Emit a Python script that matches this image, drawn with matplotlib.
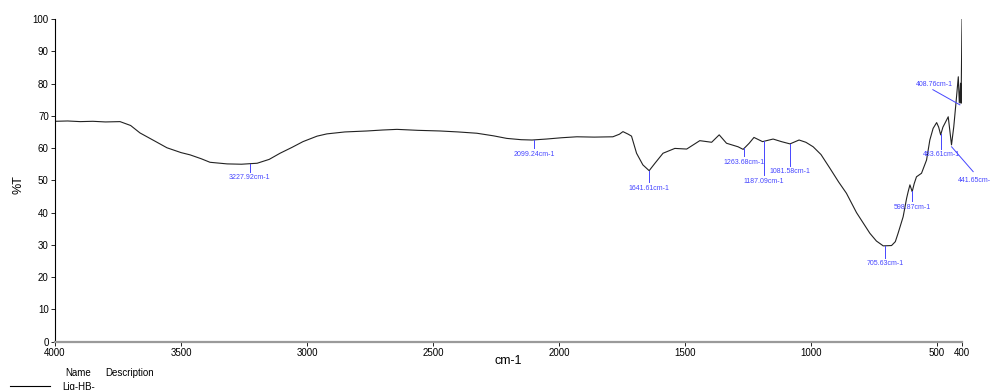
import numpy as np
import matplotlib
matplotlib.use("Agg")
import matplotlib.pyplot as plt

plt.rcParams["font.family"] = ["Liberation Sans", "DejaVu Sans"]

# FTIR spectrum (wavenumber cm-1, %T)
wavenumber = [
    4000, 3950, 3900, 3850, 3800, 3742, 3700, 3663, 3600, 3556, 3500, 3464,
    3420, 3385, 3317, 3260, 3198, 3150, 3107, 3060, 3016, 2960, 2921, 2850,
    2762, 2700, 2643, 2560, 2472, 2400, 2326, 2260, 2207, 2150, 2107, 2050,
    1990, 1929, 1860, 1786, 1760, 1746, 1725, 1712, 1692, 1667, 1642, 1619,
    1587, 1540, 1493, 1441, 1394, 1364, 1335, 1289, 1269, 1245, 1226, 1192,
    1150, 1117, 1083, 1047, 1020, 991, 960, 925, 890, 859, 819, 790, 766,
    740, 713, 680, 665, 654, 634, 620, 614, 607, 598, 590, 581, 561, 541,
    528, 515, 501, 493, 485, 476, 468, 455, 448, 442, 433, 422, 415, 411,
    406, 404, 401, 400,
]
transmittance = [
    68.3, 68.4, 68.2, 68.3, 68.1, 68.2, 67.0, 64.7, 62.0, 60.1, 58.6, 57.9,
    56.7, 55.6, 55.1, 55.0, 55.3, 56.5, 58.4, 60.2, 62.0, 63.7, 64.4, 65.0,
    65.3, 65.6, 65.8, 65.5, 65.3, 65.0, 64.6, 63.8, 63.0, 62.6, 62.5, 62.8,
    63.2, 63.5, 63.4, 63.5, 64.3, 65.1, 64.3, 63.7, 58.4, 54.8, 53.0, 55.3,
    58.4, 59.9, 59.7, 62.3, 61.8, 64.1, 61.5, 60.4, 59.6, 61.5, 63.3, 62.0,
    62.8, 62.0, 61.3, 62.5, 61.8, 60.4, 58.0, 53.8, 49.5, 46.0, 40.0, 36.5,
    33.6, 31.2, 29.7, 29.8, 31.0, 33.6, 38.7, 44.5, 46.5, 48.6, 46.5, 49.0,
    51.1, 52.2, 56.3, 62.5, 66.1, 67.9, 66.5, 64.1, 66.5, 67.7, 69.7, 65.0,
    61.0, 66.6, 75.9, 82.1, 74.0, 80.1, 73.9, 95.0, 100.0,
]

# labelled peaks
peak_wn = [3227.92, 2099.24, 1641.61, 1263.68, 1187.09, 1081.58, 705.63, 598.87, 483.61]
peak_drop = [2.5, 2.5, 3.7, 2.6, 10.4, 6.8, 3.7, 3.1, 4.6]
leader_peaks = [408.76, 441.65]

x_ticks = [4000, 3500, 3000, 2500, 2000, 1500, 1000, 500, 400]
y_ticks = list(range(0, 101, 10))

BLUE = "#4646ff"
wn = np.array(wavenumber, dtype=float)
tr = np.array(transmittance, dtype=float)


def curve_at(x):
    return float(np.interp(x, wn[::-1], tr[::-1]))


fig = plt.figure(figsize=(9.9, 3.9), dpi=100)
ax = fig.add_axes([0.0556, 0.1238, 0.9162, 0.8275])
ax.plot(wn, tr, color="#222222", lw=0.8)
ax.set_xlim(4000, 400)
ax.set_ylim(0, 100)
ax.set_xticks(x_ticks)
ax.set_yticks(y_ticks)
ax.tick_params(labelsize=7, length=3, width=0.6, pad=1.5)
for s in ("top", "right"):
    ax.spines[s].set_visible(False)
ax.spines["left"].set_linewidth(0.8)
ax.spines["bottom"].set_color("#9a9a9a")
ax.spines["bottom"].set_linewidth(1.6)

for p, d in zip(peak_wn, peak_drop):
    yc = curve_at(p)
    ax.plot([p, p], [yc, yc - d], color=BLUE, lw=0.7)
    ax.text(p, yc - d - 1.9, f"{p:.2f}cm-1", color=BLUE, fontsize=5,
            ha="center", va="center")

# leader-line labels near the right end
ax.plot([516, leader_peaks[0]], [78.1, 73.4], color=BLUE, lw=0.7, clip_on=False)
ax.text(510, 79.6, f"{leader_peaks[0]:.2f}cm-1", color=BLUE, fontsize=5,
        ha="center", va="center")
ax.plot([leader_peaks[1], 356], [60.4, 52.7], color=BLUE, lw=0.7, clip_on=False)
ax.text(417, 50.1, f"{leader_peaks[1]:.2f}cm-1", color=BLUE, fontsize=5,
        ha="left", va="center", clip_on=False)

fig.text(18 / 990, 1 - 185 / 390, "%T", rotation=90, fontsize=9,
         ha="center", va="center")
fig.text(508 / 990, 1 - 361 / 390, "cm-1", fontsize=9, ha="center", va="center")

# legend stub at the bottom
fig.text(65 / 990, 1 - 373 / 390, "Name", fontsize=7, va="center")
fig.text(105 / 990, 1 - 373 / 390, "Description", fontsize=7, va="center")
fig.add_artist(plt.Line2D([10 / 990, 50 / 990], [1 - 386 / 390] * 2,
                          color="black", lw=0.8))
fig.text(62 / 990, 1 - 387 / 390, "Lig-HB-", fontsize=7, va="center")

fig.savefig("out.png", dpi=100)
